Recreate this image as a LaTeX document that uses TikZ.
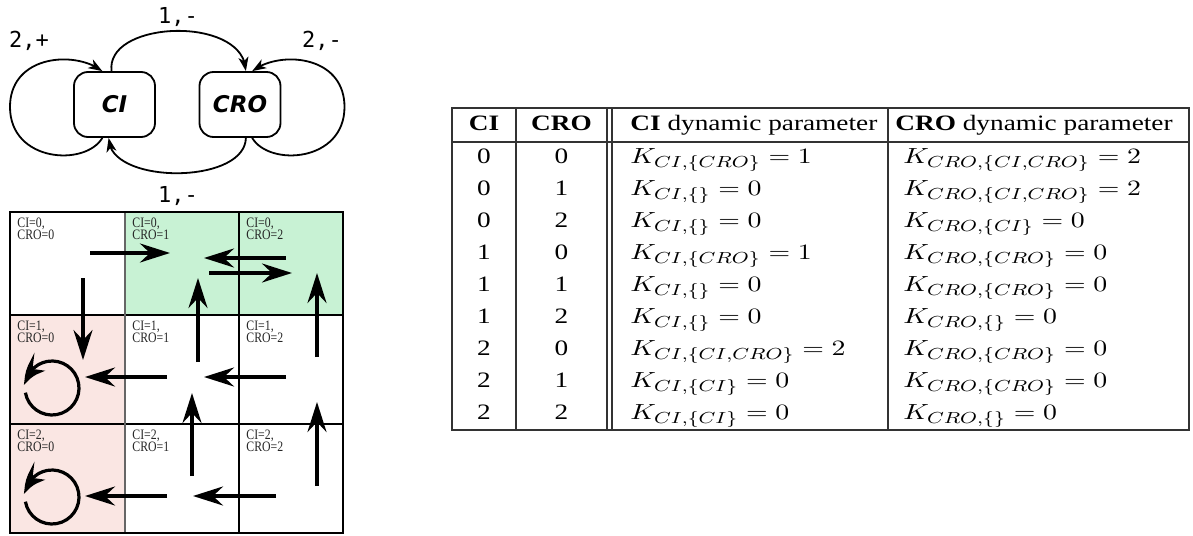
\documentclass[tikz,border=0pt]{standalone}
\usepackage[no-math]{fontspec}
\setmainfont{Liberation Serif}
\newfontfamily\lblfont{DejaVu Sans Mono}
\newfontfamily\boxfont{DejaVu Sans}
\usetikzlibrary{arrows.meta,bending}
\newcommand{\sx}[1]{\scalebox{1.24}[1]{#1}}
\newcommand{\sm}[1]{\scalebox{1.27}[1]{#1}}
\newcommand{\cx}[1]{\scalebox{0.82}[1]{#1}}
\definecolor{cellgreen}{HTML}{C8F2D4}
\definecolor{cellpink}{HTML}{FAE6E3}
\definecolor{tabline}{HTML}{333333}
\begin{document}
\begin{tikzpicture}[x=0.5pt,y=-0.5pt,
  state/.style={draw, line width=0.9pt, rounded corners=7pt, minimum width=40.5pt, minimum height=32.5pt, inner sep=0pt, font=\boxfont\bfseries\itshape\fontsize{11.5}{13}\selectfont},
  edge/.style={line width=0.9pt, -{Stealth[length=7pt,width=5pt,inset=2pt]}},
  elabel/.style={font=\lblfont\fontsize{11}{13}\selectfont, inner sep=0pt},
  flow/.style={line width=1.6pt, -{Stealth[length=15pt,width=9.5pt,inset=5pt]}},
  loopflow/.style={line width=1.6pt, -{Stealth[length=14pt,width=10pt,inset=5pt,bend]}},
  cell/.style={font=\fontsize{7.2}{6}\selectfont, align=left, anchor=north west, inner sep=0pt, text=black!85},
  tab/.style={font=\fontsize{11}{13}\selectfont, anchor=base, inner sep=0pt},
  rule/.style={draw=tabline, line width=0.6pt}]
\useasboundingbox (0,0) rectangle (1193,535);

% ---------- state graph ----------
\node[state] (ci) at (114.5,104.5) {CI};
\node[state] (cro) at (240,104.5) {CRO};
\draw[edge] (ci.95) .. controls (105,20) and (245,15) .. (cro.80);
\draw[edge] (cro.280) .. controls (245,185) and (108,185) .. (ci.260);
\draw[edge] (ci.250) .. controls (85,167) and (10,162) .. (10,107) .. controls (10,55) and (75,50) .. (ci.110);
\draw[edge] (cro.290) .. controls (269.5,167) and (344.5,162) .. (344.5,107) .. controls (344.5,55) and (279.5,50) .. (cro.70);
\node[elabel] (l1) at (29,41) {2,+};
\node[elabel] (l2) at (322,41) {2,-};
\node[elabel] (l3) at (178,17) {1,-};
\node[elabel] (l4) at (178,196) {1,-};

% ---------- state grid ----------
\fill[cellgreen] (125,212) rectangle (343,315);
\fill[cellpink] (10,315) rectangle (125,533);
\draw[line width=0.6pt] (239,212) -- (239,533);
\draw[line width=0.6pt] (10,315) -- (343,315);
\draw[line width=0.6pt] (10,424) -- (343,424);
\draw[line width=0.8pt, draw=black!60] (125,212) -- (125,533);
\draw[line width=0.6pt] (10,212) rectangle (343,533);
\foreach \r/\yt in {0/212,1/315,2/424}{
  \foreach \c/\xl in {0/10,1/125,2/239}{
    \node[cell] (lab\r\c) at (\xl+7,\yt+6) {\cx{CI=\r,}\\\cx{CRO=\c}};
  }
}
% arrow end points
\coordinate (a1s) at (90,253);  \coordinate (a1e) at (170,253);
\coordinate (a2s) at (286,258); \coordinate (a2e) at (204,258);
\coordinate (a3s) at (209,273); \coordinate (a3e) at (292,273);
\coordinate (a4s) at (83,278);  \coordinate (a4e) at (83,360);
\coordinate (a7s) at (167,377); \coordinate (a7e) at (85,377);
\coordinate (a8s) at (286,377); \coordinate (a8e) at (204,377);
\coordinate (a9s) at (198,362); \coordinate (a9e) at (198,278);
\coordinate (a10s) at (317,357); \coordinate (a10e) at (317,273);
\coordinate (a11s) at (192,476); \coordinate (a11e) at (192,393);
\coordinate (a12s) at (317,486); \coordinate (a12e) at (317,402);
\coordinate (a13s) at (167,496); \coordinate (a13e) at (85,496);
\coordinate (a14s) at (276,496); \coordinate (a14e) at (193,496);
\foreach \k in {1,2,3,4,7,8,9,10,11,12,13,14}{
  \draw[flow] (a\k s) -- (a\k e);
}
\coordinate (c1) at (52,388);
\coordinate (c2) at (52,497);
\draw[loopflow] (c1) ++(530:27) arc[start angle=530,end angle=186,radius=27];
\draw[loopflow] (c2) ++(530:27) arc[start angle=530,end angle=186,radius=27];

% ---------- table ----------
\draw[rule] (452,108) rectangle (1189,430);
\draw[rule] (452,142) -- (1189,142);
\draw[rule] (516,108) -- (516,430);
\draw[rule] (607,108) -- (607,430);
\draw[rule] (612,108) -- (612,430);
\draw[rule] (888,108) -- (888,430);
\node[tab] (h1) at (484,130) {\sx{\textbf{CI}}};
\node[tab] (h2) at (561.5,130) {\sx{\textbf{CRO}}};
\node[tab, anchor=base west] (h3) at (630,130) {\sx{\textbf{CI} dynamic parameter}};
\node[tab, anchor=base west] (h4) at (895,130) {\sx{\textbf{CRO} dynamic parameter}};
\foreach \i/\a/\b/\p/\u/\q/\v in {
  1/0/0/CRO/1/{CI,CRO}/2,
  2/0/1//0/{CI,CRO}/2,
  3/0/2//0/CI/0,
  4/1/0/CRO/1/CRO/0,
  5/1/1//0/CRO/0,
  6/1/2//0//0,
  7/2/0/{CI,CRO}/2/CRO/0,
  8/2/1/CI/0/CRO/0,
  9/2/2/CI/0//0}{
  \node[tab] (ra\i) at (484,131.5+32*\i) {\sx{\a}};
  \node[tab] (rb\i) at (561.5,131.5+32*\i) {\sx{\b}};
  \node[tab, anchor=base west] (rc\i) at (630,131.5+32*\i) {\sm{$K_{CI,\{\p\}}=\u$}};
  \node[tab, anchor=base west] (rd\i) at (903,131.5+32*\i) {\sm{$K_{CRO,\{\q\}}=\v$}};
}
\end{tikzpicture}
\end{document}
